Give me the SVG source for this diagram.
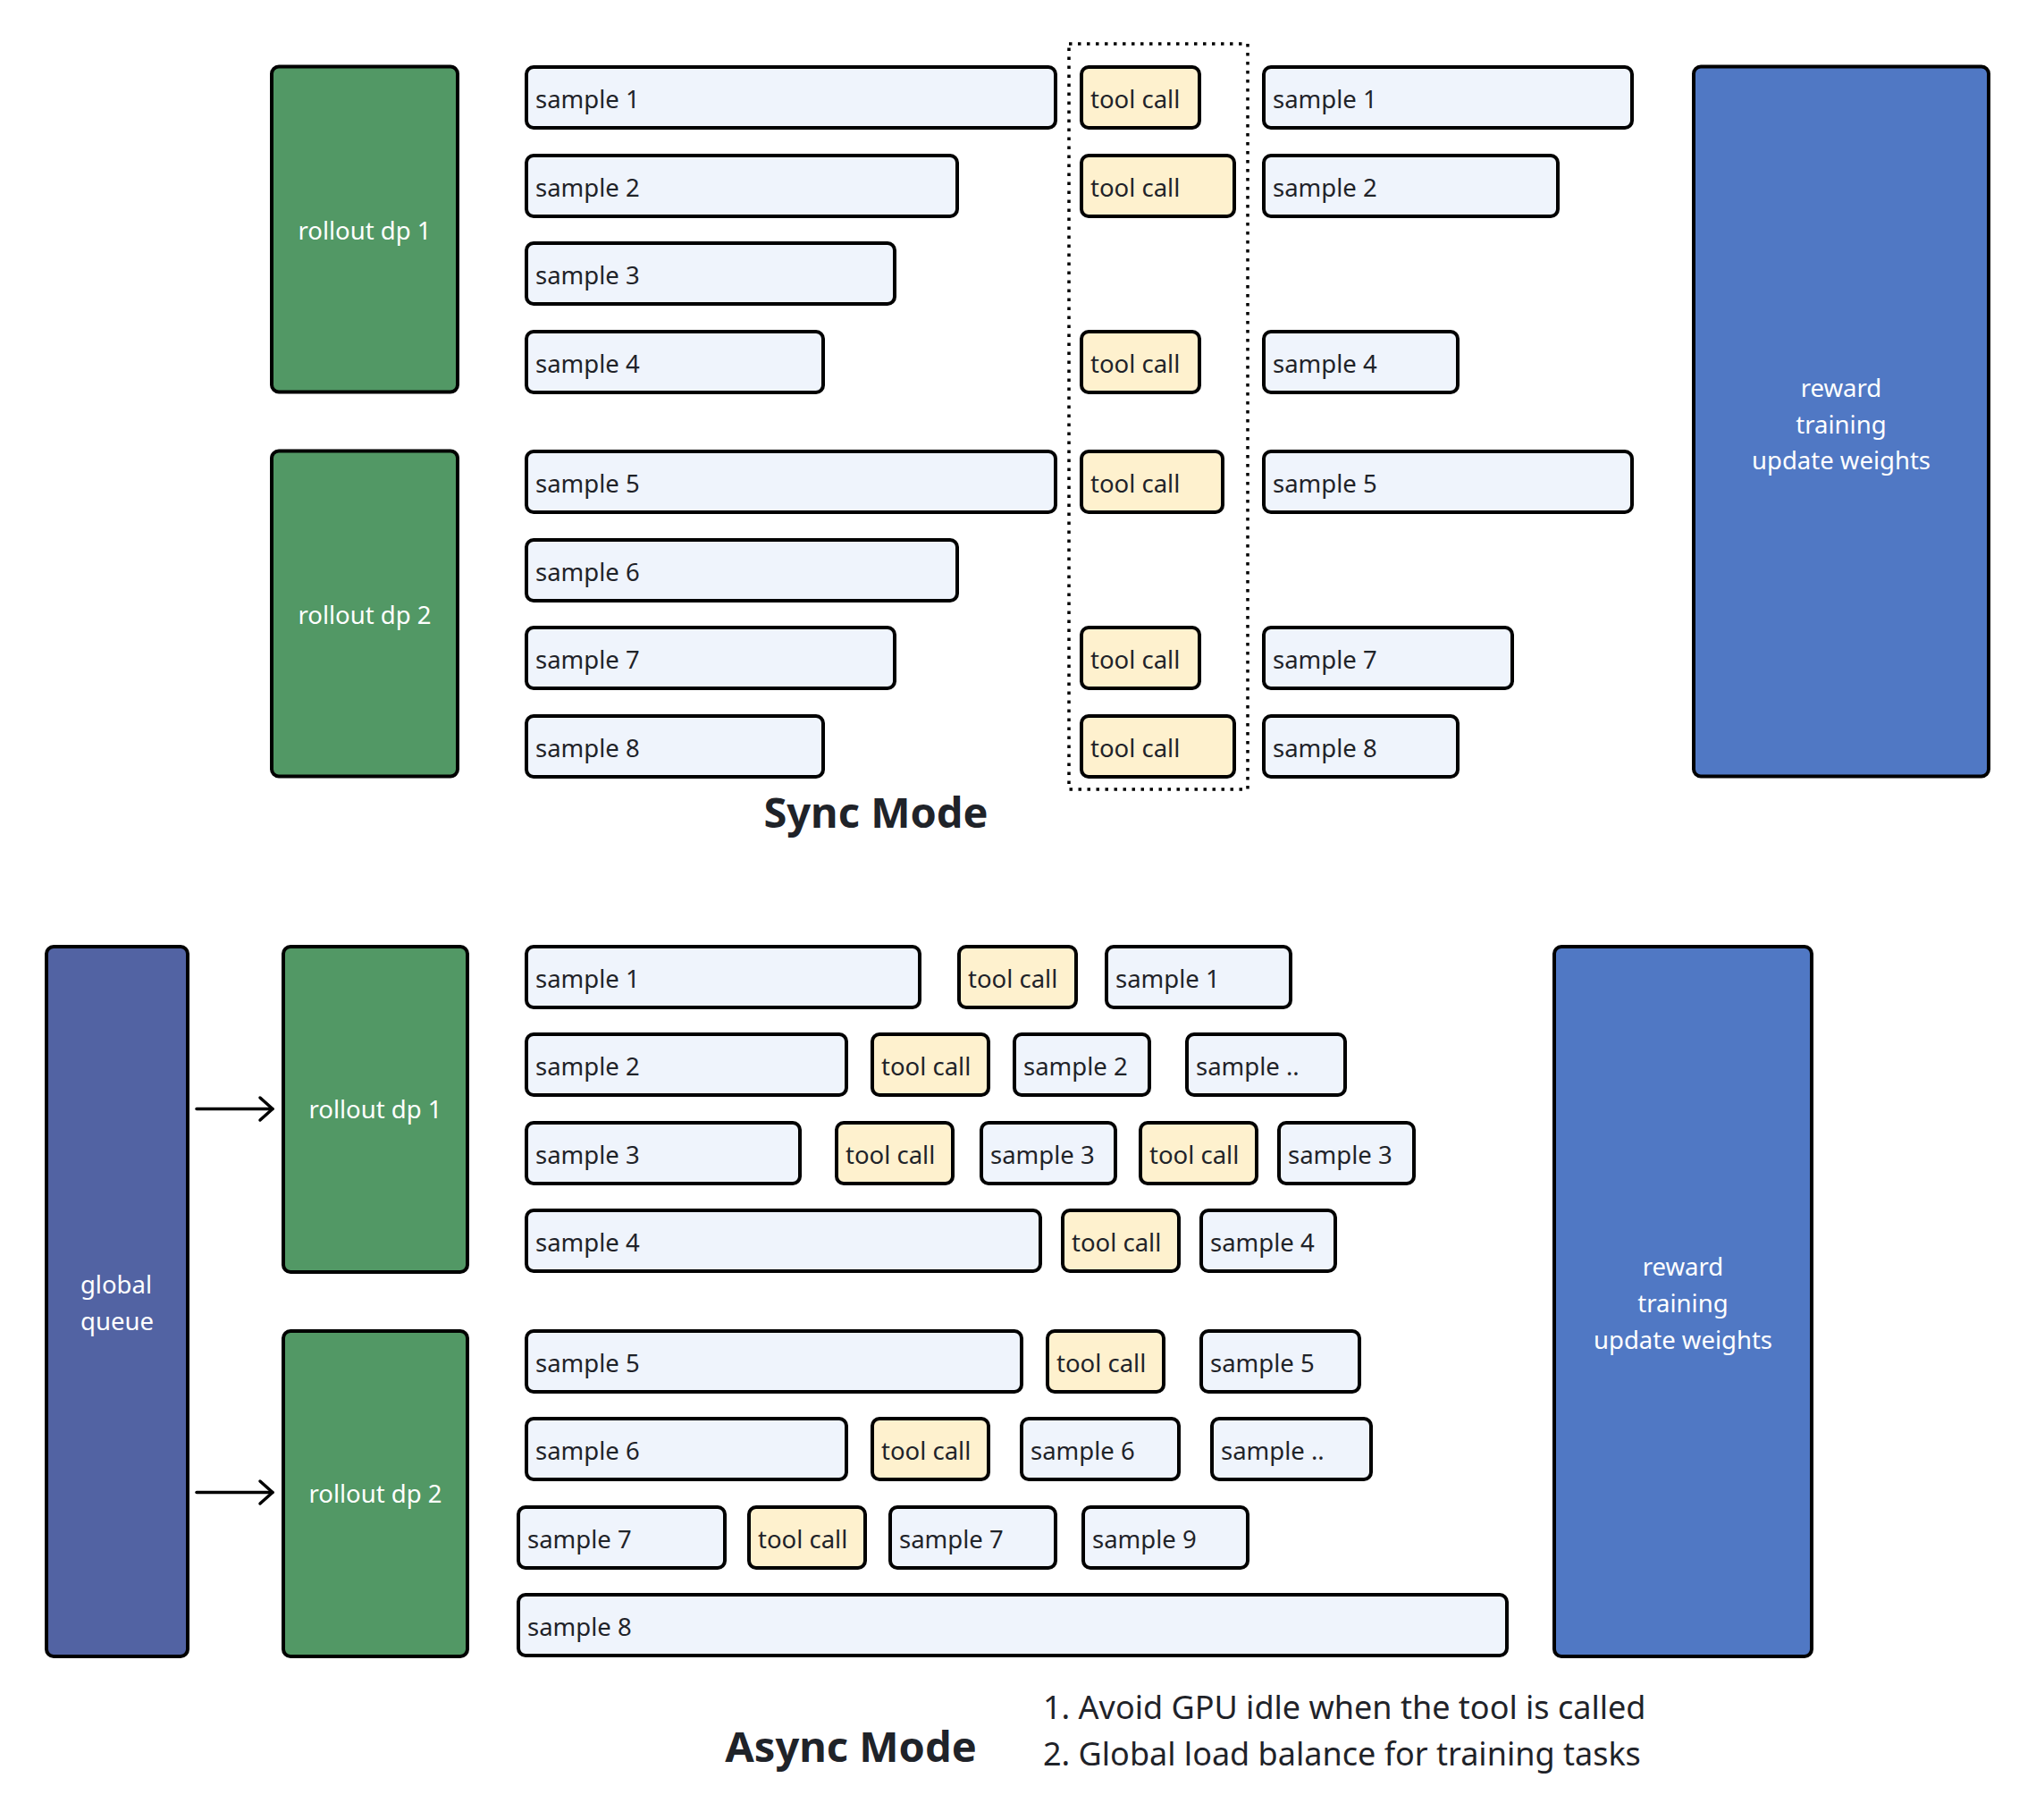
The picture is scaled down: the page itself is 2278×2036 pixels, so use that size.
<svg xmlns="http://www.w3.org/2000/svg" width="2278" height="2036" viewBox="0 0 2278 2036">
  <defs>
    <style>
      .box { stroke: #000; stroke-width: 4; }
      .sample { fill: #EFF4FC; }
      .tool { fill: #FEF1CE; }
      .rollout { fill: #529865; }
      .reward { fill: #5078C4; }
      .queue { fill: #5263A3; }
      .lbl { font-family: "Noto Sans", "Liberation Sans", sans-serif; font-size: 27.5px; fill: #1F2329; }
      .wlbl { font-family: "Noto Sans", "Liberation Sans", sans-serif; font-size: 27.5px; fill: #FFFFFF; text-anchor: middle; }
      .title { font-family: "Noto Sans", "Liberation Sans", sans-serif; font-size: 47px; font-weight: bold; fill: #1F2329; }
      .note { font-family: "Noto Sans", "Liberation Sans", sans-serif; font-size: 36px; fill: #1F2329; }
      .edge { stroke: #000; stroke-width: 3.5; fill: none; stroke-linecap: round; }
    </style>
    <marker id="chev" markerUnits="userSpaceOnUse" markerWidth="24" markerHeight="32" viewBox="-20 -16 24 32" refX="0" refY="0" orient="auto">
      <path d="M-14,-12.5 L0,0 L-14,12.5" fill="none" stroke="#000" stroke-width="3.5" stroke-linecap="round" stroke-linejoin="round"/>
    </marker>
  </defs>
  <rect width="2278" height="2036" fill="#FFFFFF"/>

  <!-- ===== Sync mode ===== -->
  <g id="sync-rollout-dp1"><rect class="box rollout" x="304" y="74.5" width="208" height="364" rx="8"/><text class="wlbl" x="408" y="268">rollout dp 1</text></g>
  <g id="sync-rollout-dp2"><rect class="box rollout" x="304" y="504.5" width="208" height="364" rx="8"/><text class="wlbl" x="408" y="698">rollout dp 2</text></g>

  <!-- first pass of generation -->
  <g id="sync-s1a"><rect class="box sample" x="589" y="75" width="592" height="68" rx="8"/><text class="lbl" x="599" y="121">sample 1</text></g>
  <g id="sync-s2a"><rect class="box sample" x="589" y="174" width="482" height="68" rx="8"/><text class="lbl" x="599" y="220">sample 2</text></g>
  <g id="sync-s3a"><rect class="box sample" x="589" y="272" width="412" height="68" rx="8"/><text class="lbl" x="599" y="318">sample 3</text></g>
  <g id="sync-s4a"><rect class="box sample" x="589" y="371" width="332" height="68" rx="8"/><text class="lbl" x="599" y="417">sample 4</text></g>
  <g id="sync-s5a"><rect class="box sample" x="589" y="505" width="592" height="68" rx="8"/><text class="lbl" x="599" y="551">sample 5</text></g>
  <g id="sync-s6a"><rect class="box sample" x="589" y="604" width="482" height="68" rx="8"/><text class="lbl" x="599" y="650">sample 6</text></g>
  <g id="sync-s7a"><rect class="box sample" x="589" y="702" width="412" height="68" rx="8"/><text class="lbl" x="599" y="748">sample 7</text></g>
  <g id="sync-s8a"><rect class="box sample" x="589" y="801" width="332" height="68" rx="8"/><text class="lbl" x="599" y="847">sample 8</text></g>

  <!-- synchronous tool call barrier -->
  <rect id="sync-barrier" x="1196" y="49" width="200" height="834" fill="none" stroke="#000" stroke-width="3.5" stroke-dasharray="3.5 6.5"/>
  <g id="sync-t1"><rect class="box tool" x="1210" y="75" width="132" height="68" rx="8"/><text class="lbl" x="1220" y="121">tool call</text></g>
  <g id="sync-t2"><rect class="box tool" x="1210" y="174" width="171" height="68" rx="8"/><text class="lbl" x="1220" y="220">tool call</text></g>
  <g id="sync-t4"><rect class="box tool" x="1210" y="371" width="132" height="68" rx="8"/><text class="lbl" x="1220" y="417">tool call</text></g>
  <g id="sync-t5"><rect class="box tool" x="1210" y="505" width="158" height="68" rx="8"/><text class="lbl" x="1220" y="551">tool call</text></g>
  <g id="sync-t7"><rect class="box tool" x="1210" y="702" width="132" height="68" rx="8"/><text class="lbl" x="1220" y="748">tool call</text></g>
  <g id="sync-t8"><rect class="box tool" x="1210" y="801" width="171" height="68" rx="8"/><text class="lbl" x="1220" y="847">tool call</text></g>

  <!-- continuation after tool results -->
  <g id="sync-s1b"><rect class="box sample" x="1414" y="75" width="412" height="68" rx="8"/><text class="lbl" x="1424" y="121">sample 1</text></g>
  <g id="sync-s2b"><rect class="box sample" x="1414" y="174" width="329" height="68" rx="8"/><text class="lbl" x="1424" y="220">sample 2</text></g>
  <g id="sync-s4b"><rect class="box sample" x="1414" y="371" width="217" height="68" rx="8"/><text class="lbl" x="1424" y="417">sample 4</text></g>
  <g id="sync-s5b"><rect class="box sample" x="1414" y="505" width="412" height="68" rx="8"/><text class="lbl" x="1424" y="551">sample 5</text></g>
  <g id="sync-s7b"><rect class="box sample" x="1414" y="702" width="278" height="68" rx="8"/><text class="lbl" x="1424" y="748">sample 7</text></g>
  <g id="sync-s8b"><rect class="box sample" x="1414" y="801" width="217" height="68" rx="8"/><text class="lbl" x="1424" y="847">sample 8</text></g>

  <g id="sync-reward"><rect class="box reward" x="1895" y="74.5" width="330" height="794" rx="8"/>
    <text class="wlbl" x="2060" y="444">reward</text>
    <text class="wlbl" x="2060" y="485">training</text>
    <text class="wlbl" x="2060" y="525">update weights</text>
  </g>

  <text id="sync-title" class="title" x="980" y="926" text-anchor="middle">Sync Mode</text>

  <!-- ===== Async mode ===== -->
  <g id="global-queue"><rect class="box queue" x="52" y="1059" width="158" height="794" rx="8"/>
    <text class="wlbl" x="130" y="1447">global</text>
    <text class="wlbl" x="131" y="1488">queue</text>
  </g>
  <g id="async-rollout-dp1"><rect class="box rollout" x="317" y="1059" width="206" height="364" rx="8"/><text class="wlbl" x="420" y="1251">rollout dp 1</text></g>
  <g id="async-rollout-dp2"><rect class="box rollout" x="317" y="1489" width="206" height="364" rx="8"/><text class="wlbl" x="420" y="1681">rollout dp 2</text></g>

  <g id="connectors">
    <line class="edge" x1="220" y1="1240.5" x2="305" y2="1240.5" marker-end="url(#chev)"/>
    <line class="edge" x1="220" y1="1669.5" x2="305" y2="1669.5" marker-end="url(#chev)"/>
  </g>

  <!-- dp 1 rows -->
  <g id="a-r1-s1"><rect class="box sample" x="589" y="1059" width="440" height="68" rx="8"/><text class="lbl" x="599" y="1105">sample 1</text></g>
  <g id="a-r1-t1"><rect class="box tool" x="1073" y="1059" width="131" height="68" rx="8"/><text class="lbl" x="1083" y="1105">tool call</text></g>
  <g id="a-r1-s2"><rect class="box sample" x="1238" y="1059" width="206" height="68" rx="8"/><text class="lbl" x="1248" y="1105">sample 1</text></g>

  <g id="a-r2-s1"><rect class="box sample" x="589" y="1157" width="358" height="68" rx="8"/><text class="lbl" x="599" y="1203">sample 2</text></g>
  <g id="a-r2-t1"><rect class="box tool" x="976" y="1157" width="130" height="68" rx="8"/><text class="lbl" x="986" y="1203">tool call</text></g>
  <g id="a-r2-s2"><rect class="box sample" x="1135" y="1157" width="151" height="68" rx="8"/><text class="lbl" x="1145" y="1203">sample 2</text></g>
  <g id="a-r2-s3"><rect class="box sample" x="1328" y="1157" width="177" height="68" rx="8"/><text class="lbl" x="1338" y="1203">sample ..</text></g>

  <g id="a-r3-s1"><rect class="box sample" x="589" y="1256" width="306" height="68" rx="8"/><text class="lbl" x="599" y="1302">sample 3</text></g>
  <g id="a-r3-t1"><rect class="box tool" x="936" y="1256" width="130" height="68" rx="8"/><text class="lbl" x="946" y="1302">tool call</text></g>
  <g id="a-r3-s2"><rect class="box sample" x="1098" y="1256" width="150" height="68" rx="8"/><text class="lbl" x="1108" y="1302">sample 3</text></g>
  <g id="a-r3-t2"><rect class="box tool" x="1276" y="1256" width="130" height="68" rx="8"/><text class="lbl" x="1286" y="1302">tool call</text></g>
  <g id="a-r3-s3"><rect class="box sample" x="1431" y="1256" width="151" height="68" rx="8"/><text class="lbl" x="1441" y="1302">sample 3</text></g>

  <g id="a-r4-s1"><rect class="box sample" x="589" y="1354" width="575" height="68" rx="8"/><text class="lbl" x="599" y="1400">sample 4</text></g>
  <g id="a-r4-t1"><rect class="box tool" x="1189" y="1354" width="130" height="68" rx="8"/><text class="lbl" x="1199" y="1400">tool call</text></g>
  <g id="a-r4-s2"><rect class="box sample" x="1344" y="1354" width="150" height="68" rx="8"/><text class="lbl" x="1354" y="1400">sample 4</text></g>

  <!-- dp 2 rows -->
  <g id="a-r5-s1"><rect class="box sample" x="589" y="1489" width="554" height="68" rx="8"/><text class="lbl" x="599" y="1535">sample 5</text></g>
  <g id="a-r5-t1"><rect class="box tool" x="1172" y="1489" width="130" height="68" rx="8"/><text class="lbl" x="1182" y="1535">tool call</text></g>
  <g id="a-r5-s2"><rect class="box sample" x="1344" y="1489" width="177" height="68" rx="8"/><text class="lbl" x="1354" y="1535">sample 5</text></g>

  <g id="a-r6-s1"><rect class="box sample" x="589" y="1587" width="358" height="68" rx="8"/><text class="lbl" x="599" y="1633">sample 6</text></g>
  <g id="a-r6-t1"><rect class="box tool" x="976" y="1587" width="130" height="68" rx="8"/><text class="lbl" x="986" y="1633">tool call</text></g>
  <g id="a-r6-s2"><rect class="box sample" x="1143" y="1587" width="176" height="68" rx="8"/><text class="lbl" x="1153" y="1633">sample 6</text></g>
  <g id="a-r6-s3"><rect class="box sample" x="1356" y="1587" width="178" height="68" rx="8"/><text class="lbl" x="1366" y="1633">sample ..</text></g>

  <g id="a-r7-s1"><rect class="box sample" x="580" y="1686" width="231" height="68" rx="8"/><text class="lbl" x="590" y="1732">sample 7</text></g>
  <g id="a-r7-t1"><rect class="box tool" x="838" y="1686" width="130" height="68" rx="8"/><text class="lbl" x="848" y="1732">tool call</text></g>
  <g id="a-r7-s2"><rect class="box sample" x="996" y="1686" width="185" height="68" rx="8"/><text class="lbl" x="1006" y="1732">sample 7</text></g>
  <g id="a-r7-s3"><rect class="box sample" x="1212" y="1686" width="184" height="68" rx="8"/><text class="lbl" x="1222" y="1732">sample 9</text></g>

  <g id="a-r8-s1"><rect class="box sample" x="580" y="1784" width="1106" height="68" rx="8"/><text class="lbl" x="590" y="1830">sample 8</text></g>

  <g id="async-reward"><rect class="box reward" x="1739" y="1059" width="288" height="794" rx="8"/>
    <text class="wlbl" x="1883" y="1427">reward</text>
    <text class="wlbl" x="1883" y="1468">training</text>
    <text class="wlbl" x="1883" y="1509">update weights</text>
  </g>

  <text id="async-title" class="title" x="952" y="1971" text-anchor="middle">Async Mode</text>
  <g id="notes">
    <text class="note" x="1167" y="1923">1. Avoid GPU idle when the tool is called</text>
    <text class="note" x="1167" y="1975">2. Global load balance for training tasks</text>
  </g>
</svg>
